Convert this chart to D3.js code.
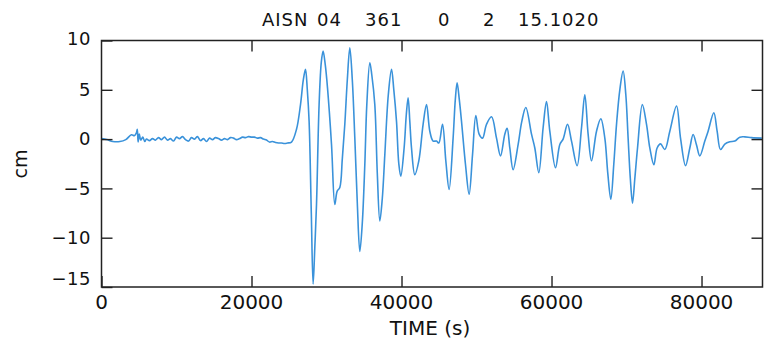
<!DOCTYPE html>
<html>
<head>
<meta charset="utf-8">
<script src="https://cdn.jsdelivr.net/npm/d3@7"></script>
<style>
  body { margin: 0; background: #fff; }
  text { font-family: "DejaVu Sans", sans-serif; fill: #111; }
</style>
</head>
<body>
<div id="chart"></div>
<script>
// trace: time (s) and level (cm)
const timeS = [
  0, 707, 1507, 2440, 3240, 4000, 4373, 4640, 4773, 4880, 5040, 5240, 5507, 5773,
  6000, 6400, 6800, 7200, 7600, 8000, 8400, 8800, 9200, 9600, 10000, 10400, 10800,
  11200, 11600, 12000, 12400, 12800, 13200, 13600, 14000, 14400, 14800, 15200, 15600,
  16000, 16400, 16800, 17200, 17600, 18000, 18400, 18800, 19200, 19600, 20000, 20400,
  20800, 21200, 21600, 22000, 22400, 22800, 23200, 23600, 24000, 24400, 24800, 25333,
  26000, 26533, 26907, 27200, 27440, 27680, 27973, 28213, 28440, 28667, 29013, 29307,
  29547, 29840, 30133, 30667, 31107, 31413, 31773, 32107, 32440, 32773, 33107, 33440,
  33773, 34107, 34440, 34773, 35107, 35373, 35773, 36040, 36440, 36773, 37107, 37440,
  37773, 38240, 38667, 38973, 39333, 39640, 39907, 40347, 40640, 40880, 41107, 41333,
  41773, 42307, 42880, 43333, 43773, 44213, 44667, 44973, 45467, 45907, 46347, 46880,
  47173, 47413, 47707, 48000, 48533, 49013, 49467, 49907, 50347, 50800, 51333, 52000,
  52667, 53200, 53773, 54080, 54440, 54880, 55547, 56040, 56573, 57333, 57773, 58307,
  58880, 59333, 59773, 60533, 61107, 61547, 62133, 62667, 63413, 64000, 64440, 64880,
  65333, 66000, 66573, 67107, 67507, 67907, 68307, 68667, 69107, 69547, 69907, 70213,
  70507, 70800, 71107, 71467, 72107, 72667, 73107, 73640, 74080, 74533, 75107, 75773,
  76667, 77200, 77867, 78440, 78880, 79333, 79773, 80440, 80880, 81640, 82080, 82533,
  83107, 83773, 84440, 85107, 85773, 86667, 88040
];
const levelCm = [
  0.05, -0.05, -0.24, -0.25, -0.05, 0.44, 0.35, 0.6, 1.0, -0.3, 0.5, -0.1, 0.2, -0.25,
  0.0, -0.15, 0.05, -0.1, 0.15, -0.05, 0.2, -0.1, 0.05, -0.2, 0.2, 0.05, 0.25,
  -0.05, -0.2, 0.15, 0.0, 0.25, -0.15, 0.05, -0.25, 0.1, -0.05, 0.15, 0.05,
  -0.1, 0.05, -0.05, 0.15, 0.1, -0.05, 0.05, 0.2, 0.15, 0.25, 0.2, 0.2,
  0.1, 0.15, 0.0, -0.1, -0.3, -0.25, -0.35, -0.4, -0.4, -0.45, -0.4, -0.3,
  1.0, 3.5, 6.0, 7.07, 5.0, 1.8, -7.5, -14.7, -11, -6.6, 3.5, 7.8,
  8.93, 7.5, 5.2, -0.55, -6.64, -5.3, -4.9, -2.0, 1.5, 6.0, 9.27, 6.0,
  0.13, -6.5, -11.4, -8.5, -2.6, 3.5, 7.75, 6.5, 3.5, -3.5, -8.3, -6.0,
  -1.6, 4.5, 7.07, 5.0, 1.8, -2.5, -3.76, -0.9, 2.5, 4.2, 1.8, -0.9,
  -3.6, -2.2, 1.5, 3.5, 0.8, -0.2, -0.2, -0.4, 1.5, -2.2, -5.1, 0.1,
  4.0, 5.7, 4.0, 1.8, -2.6, -5.6, -1.6, 2.4, 0.5, 0.1, 1.5, 2.26,
  0.1, -1.7, 0.5, 1.1, -0.9, -3.1, -0.55, 1.8, 3.2, 0.5, -0.9, -3.4,
  1.15, 3.8, 0.8, -2.9, -0.55, 0.0, 1.5, -0.2, -2.7, 1.15, 4.5, 0.5,
  -2.2, 0.8, 2.06, 0.1, -3.5, -6.1, -2.5, 1.5, 5.0, 6.9, 4.5, 0.1,
  -4.0, -6.5, -4.0, -0.9, 3.5, 1.5, -0.9, -2.6, -0.9, -0.48, -1.06, 0.8,
  3.35, 0.1, -2.7, -0.9, 0.47, -0.6, -1.7, -0.2, 0.8, 2.67, 0.8, -1.06,
  -0.5, -0.27, -0.2, 0.2, 0.23, 0.15, 0.1
];
const xTicks = [0, 20000, 40000, 60000, 80000];
const yTicks = [-15, -10, -5, 0, 5, 10];
const titleParts = ["AISN", "04", "361", "0", "2", "15.1020"];

const w = 772, h = 344;
const pLeft = 101.5, pTop = 40.5, pRight = 762.5, pBottom = 287;

const svg = d3.select("#chart").append("svg")
  .attr("width", w)
  .attr("height", h);

const x = d3.scaleLinear().domain([0, 88130]).range([pLeft, pRight]);
const y = d3.scaleLinear().domain([-15, 10]).range([pBottom, pTop]);

// trace
const data = timeS.map((t, i) => ({t: t, v: levelCm[i]}));
const line = d3.line()
  .x(d => x(d.t))
  .y(d => y(d.v))
  .curve(d3.curveCatmullRom.alpha(0.5));

svg.append("path")
  .datum(data)
  .attr("d", line)
  .attr("fill", "none")
  .attr("stroke", "#3a92da")
  .attr("stroke-width", 1.6)
  .attr("stroke-linejoin", "round");

// inward ticks on all four sides
const tl = 11;
const axisStyle = g => g.selectAll("line").attr("stroke", "#222").attr("stroke-width", 1.4);
svg.append("g").attr("transform", `translate(0,${pBottom})`)
  .call(d3.axisTop(x).tickValues(xTicks).tickSize(tl).tickFormat(""))
  .call(g => g.select(".domain").remove()).call(axisStyle);
svg.append("g").attr("transform", `translate(0,${pTop})`)
  .call(d3.axisBottom(x).tickValues(xTicks.slice(1)).tickSize(tl).tickFormat(""))
  .call(g => g.select(".domain").remove()).call(axisStyle);
svg.append("g").attr("transform", `translate(${pLeft},0)`)
  .call(d3.axisRight(y).tickValues(yTicks).tickSize(tl).tickFormat(""))
  .call(g => g.select(".domain").remove()).call(axisStyle);
svg.append("g").attr("transform", `translate(${pRight},0)`)
  .call(d3.axisLeft(y).tickValues(yTicks.slice(1, -1)).tickSize(tl).tickFormat(""))
  .call(g => g.select(".domain").remove()).call(axisStyle);

// frame
svg.append("rect")
  .attr("x", pLeft).attr("y", pTop)
  .attr("width", pRight - pLeft).attr("height", pBottom - pTop)
  .attr("fill", "none")
  .attr("stroke", "#222")
  .attr("stroke-width", 1.5);

// tick labels
svg.selectAll(".xlab").data(xTicks).enter().append("text")
  .attr("class", "xlab")
  .attr("x", d => x(d))
  .attr("y", 308.5)
  .attr("text-anchor", "middle")
  .style("font-size", "20px")
  .text(d => d);

svg.selectAll(".ylab").data(yTicks).enter().append("text")
  .attr("class", "ylab")
  .attr("x", 91)
  .attr("y", d => y(d) + 6.3 - (d == -15 ? 8 : 0) - (d == 10 ? 1.5 : 0))
  .attr("text-anchor", "end")
  .style("font-size", "18px")
  .style("letter-spacing", "0.5px")
  .text(d => d < 0 ? "\u2212" + Math.abs(d) : d);

// axis titles
svg.append("text")
  .attr("x", 430).attr("y", 334.5)
  .attr("text-anchor", "middle")
  .style("font-size", "20px")
  .text("TIME (s)");

svg.append("text")
  .attr("transform", "translate(27,164) rotate(-90)")
  .attr("text-anchor", "middle")
  .style("font-size", "19px")
  .text("cm");

// title, pieces placed as on the record
const titleX = [262, 317, 365, 438, 483, 518];
svg.selectAll(".ttl").data(titleParts).enter().append("text")
  .attr("class", "ttl")
  .attr("x", (d, i) => titleX[i])
  .attr("y", 26)
  .style("font-size", "18px")
  .style("letter-spacing", "1px")
  .text(d => d);
</script>
</body>
</html>
